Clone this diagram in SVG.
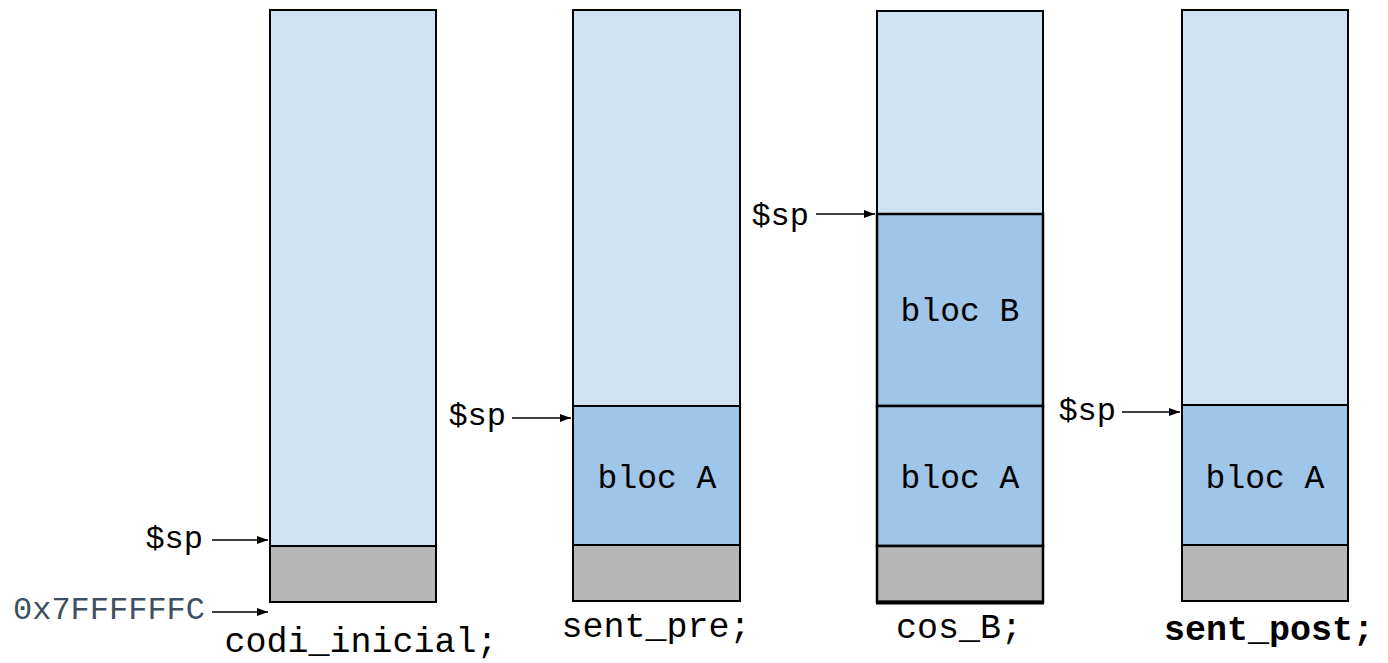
<svg xmlns="http://www.w3.org/2000/svg" width="1388" height="663" viewBox="0 0 1388 663">
<defs>
<marker id="ah" markerWidth="12" markerHeight="10" refX="11" refY="5" orient="auto" markerUnits="userSpaceOnUse">
<path d="M0,1 L11,5 L0,9 Z" fill="#000"/>
</marker>
<style>
.free{fill:#cfe2f3;stroke:#000;stroke-width:2}
.blk{fill:#9fc5e8;stroke:#000;stroke-width:2}
.base{fill:#b7b7b7;stroke:#000;stroke-width:2}
.mono{font-family:"Liberation Mono","Courier New",monospace;fill:#000}
.lbl{font-size:32px;text-anchor:end}
.blab{font-size:33px;text-anchor:middle}
.cap{font-size:35px;text-anchor:middle}
.arr{stroke:#000;stroke-width:1.6;fill:none;marker-end:url(#ah)}
</style>
</defs>
<rect width="1388" height="663" fill="#fff"/>

<g id="stack-codi-inicial">
<rect class="free" x="270" y="10" width="166" height="536"/>
<rect class="base" x="270" y="546" width="166" height="56"/>
<text class="mono cap" x="361" y="652">codi_inicial;</text>
</g>

<g id="stack-sent-pre">
<rect class="free" x="573" y="10" width="167" height="396"/>
<rect class="blk" x="573" y="406" width="167" height="139"/>
<text class="mono blab" x="657" y="488">bloc A</text>
<rect class="base" x="573" y="545" width="167" height="56"/>
<text class="mono cap" x="656" y="637">sent_pre;</text>
</g>

<g id="stack-cos-B">
<rect class="free" x="877" y="11" width="166" height="203"/>
<rect class="blk" x="877" y="214" width="166" height="192" style="stroke-width:2.5"/>
<text class="mono blab" x="960" y="321">bloc B</text>
<rect class="blk" x="877" y="406" width="166" height="140" style="stroke-width:2.5"/>
<text class="mono blab" x="960" y="488">bloc A</text>
<rect class="base" x="877" y="546" width="166" height="56" style="stroke-width:2.5"/>
<line x1="876" y1="602.5" x2="1044" y2="602.5" stroke="#000" stroke-width="4"/>
<text class="mono cap" x="959" y="638">cos_B;</text>
</g>

<g id="stack-sent-post">
<rect class="free" x="1182" y="10" width="166" height="395"/>
<rect class="blk" x="1182" y="405" width="166" height="140"/>
<text class="mono blab" x="1265" y="488">bloc A</text>
<rect class="base" x="1182" y="545" width="166" height="56"/>
<text class="mono cap" x="1269" y="640" font-weight="bold">sent_post;</text>
</g>

<g id="labels">
<text class="mono lbl" x="203" y="548">$sp</text>
<text class="mono lbl" x="205" y="619" style="fill:#3f4f5f">0x7FFFFFFC</text>
<text class="mono lbl" x="506" y="425">$sp</text>
<text class="mono lbl" x="809" y="225">$sp</text>
<text class="mono lbl" x="1116" y="420">$sp</text>
</g>

<g id="connectors">
<line class="arr" x1="212" y1="540" x2="268" y2="540"/>
<line class="arr" x1="212" y1="612" x2="268" y2="612"/>
<line class="arr" x1="512" y1="418" x2="571" y2="418"/>
<line class="arr" x1="816" y1="214" x2="875" y2="214"/>
<line class="arr" x1="1122" y1="412" x2="1180" y2="412"/>
</g>
</svg>
